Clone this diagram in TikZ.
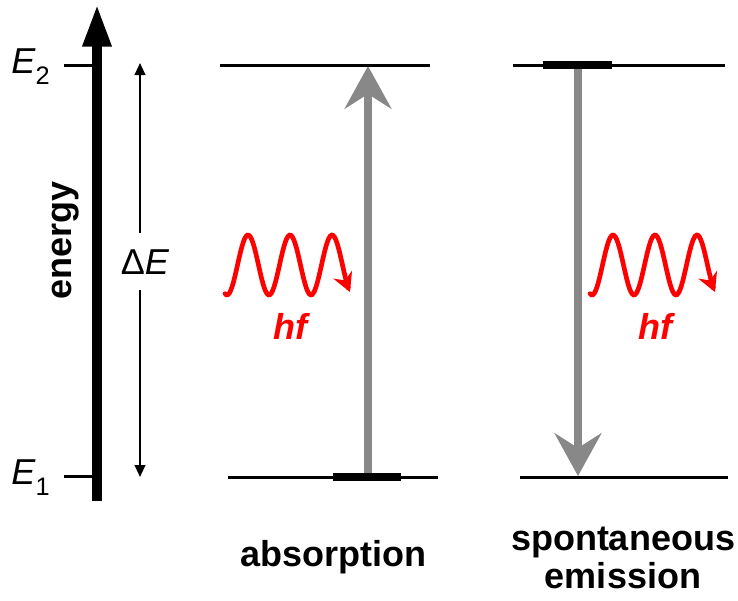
\documentclass[tikz,border=0pt]{standalone}
\usepackage{fontspec}
\setmainfont{Liberation Sans}
\usetikzlibrary{arrows.meta}
\definecolor{photon}{RGB}{255,0,0}
\definecolor{transit}{RGB}{136,136,136}
\tikzset{
  level/.style={line width=2.25pt},
  occupied/.style={line width=6pt},
  transition/.style={transit,line width=6pt,-{Stealth[length=32pt,width=35pt,inset=11pt]}},
  wave/.style={photon,line width=3.5pt,line cap=round,-{Stealth[length=14pt,width=15pt]}},
  lbl/.style={font=\fontsize{27}{29}\selectfont,inner sep=0pt}
}
\begin{document}
\begin{tikzpicture}[x=0.75pt,y=-0.75pt]
\useasboundingbox (0,0) rectangle (738,600);
\coordinate (axbot) at (97,501);
\coordinate (axtop) at (97,4);
\coordinate (tk2) at (64,65);
\coordinate (tk1) at (64,476);
\draw[line width=7.5pt,-{Triangle[length=32pt,width=20pt]}] (axbot) -- (axtop);
\draw[level] (tk2) -- (97,65);
\draw[level] (tk1) -- (97,476);
\node[lbl,anchor=east] (e2) at (50,67) {\textit{E}\raisebox{-0.3em}{\fontsize{19}{19}\selectfont 2}};
\node[lbl,anchor=east] (e1) at (50,478) {\textit{E}\raisebox{-0.3em}{\fontsize{19}{19}\selectfont 1}};
\node[lbl,rotate=90] (energy) at (66,240) {\bfseries energy};
\node[lbl] (de) at (145,262) {Δ\textit{E}};
\coordinate (detop) at (140,63);
\coordinate (debot) at (140,477);
\draw[line width=1.5pt,-{Triangle[length=9pt,width=8pt]}] (140,233) -- (detop);
\draw[line width=1.5pt,-{Triangle[length=9pt,width=8pt]}] (140,290) -- (debot);
\coordinate (abslo) at (368,477);
\coordinate (abshi) at (368,66);
\coordinate (emhi) at (578,65);
\coordinate (emlo) at (578,476);
\draw[transition] (abslo) -- (abshi);
\draw[transition] (emhi) -- (emlo);
\draw[level] (220,65) -- (430,65);
\draw[level] (228,477) -- (438,477);
\draw[occupied] (333,477) -- (401,477);
\draw[level] (513,65) -- (725,65);
\draw[occupied] (543,65) -- (612,65);
\draw[level] (520,477) -- (728,477);
\draw[wave] plot[domain=225:350,samples=90] (\x,{265-30*sin((\x-227)/42*360-90)});
\draw[wave] plot[domain=590:715,samples=90] (\x,{265-30*sin((\x-592)/42*360-90)});
\node[lbl,photon] (hfa) at (290,326) {\bfseries\itshape hf};
\node[lbl,photon] (hfe) at (655,326) {\bfseries\itshape hf};
\node[lbl] (abs) at (333,557) {\bfseries absorption};
\node[lbl,align=center] (em) at (623,558) {\bfseries spontaneous\\\bfseries emission};
\end{tikzpicture}
\end{document}
